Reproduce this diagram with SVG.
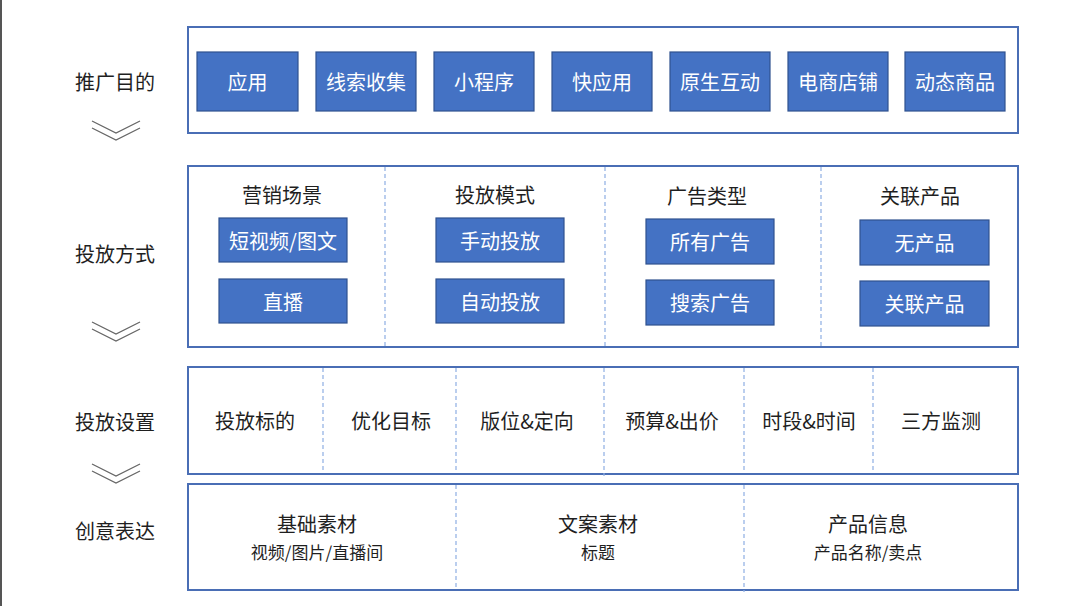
<svg xmlns="http://www.w3.org/2000/svg" width="1080" height="606" viewBox="0 0 1080 606">
<style>
text{font-family:"Noto Sans CJK SC","Noto Sans",sans-serif;text-anchor:middle;dominant-baseline:central;}
.lbl{font-size:20px;fill:#1f1f1f;}
.wt{font-size:20px;fill:#ffffff;}
.sub{font-size:17px;fill:#1f1f1f;}
.panel{fill:#ffffff;stroke:#4a6eb5;stroke-width:2;}
.btn{fill:#4472c4;stroke:#2f528f;stroke-width:1.2;}
.dash{stroke:#8eaee3;stroke-width:1.2;stroke-dasharray:4 3;fill:none;}
.chev{fill:none;stroke:#666;stroke-width:1.3;}
</style>
<rect width="1080" height="606" fill="#ffffff"/>
<line x1="1" y1="0" x2="1" y2="606" stroke="#555" stroke-width="2"/>

<g id="labels">
<text class="lbl" x="115" y="81">推广目的</text>
<text class="lbl" x="115" y="253">投放方式</text>
<text class="lbl" x="115" y="421">投放设置</text>
<text class="lbl" x="115" y="530">创意表达</text>
</g>

<g id="connectors">
<polyline class="chev" points="92,121 116,133 140,121"/>
<polyline class="chev" points="92,128 116,140 140,128"/>
<polyline class="chev" points="92,322 116,334 140,322"/>
<polyline class="chev" points="92,329 116,341 140,329"/>
<polyline class="chev" points="92,464 116,476 140,464"/>
<polyline class="chev" points="92,471 116,483 140,471"/>
</g>

<g id="row1">
<rect class="panel" x="188" y="27" width="830" height="106"/>
<g id="n-yingyong"><rect class="btn" x="197" y="52" width="101" height="59"/><text class="wt" x="247.5" y="81.5">应用</text></g>
<g id="n-xiansuo"><rect class="btn" x="316" y="52" width="100" height="59"/><text class="wt" x="366" y="81.5">线索收集</text></g>
<g id="n-xiaochengxu"><rect class="btn" x="434" y="52" width="100" height="59"/><text class="wt" x="484" y="81.5">小程序</text></g>
<g id="n-kuaiyingyong"><rect class="btn" x="552" y="52" width="100" height="59"/><text class="wt" x="602" y="81.5">快应用</text></g>
<g id="n-yuansheng"><rect class="btn" x="670" y="52" width="100" height="59"/><text class="wt" x="720" y="81.5">原生互动</text></g>
<g id="n-dianshang"><rect class="btn" x="788" y="52" width="100" height="59"/><text class="wt" x="838" y="81.5">电商店铺</text></g>
<g id="n-dongtai"><rect class="btn" x="905" y="52" width="100" height="59"/><text class="wt" x="955" y="81.5">动态商品</text></g>
</g>

<g id="row2">
<rect class="panel" x="188" y="166" width="830" height="181"/>
<line class="dash" x1="385" y1="167" x2="385" y2="346"/>
<line class="dash" x1="605" y1="167" x2="605" y2="346"/>
<line class="dash" x1="821" y1="167" x2="821" y2="346"/>
<text class="lbl" x="282" y="194">营销场景</text>
<text class="lbl" x="495" y="194">投放模式</text>
<text class="lbl" x="707" y="195">广告类型</text>
<text class="lbl" x="920" y="195">关联产品</text>
<g id="n-duanshipin"><rect class="btn" x="219" y="218" width="128" height="44"/><text class="wt" x="283" y="240">短视频/图文</text></g>
<g id="n-zhibo"><rect class="btn" x="219" y="279" width="128" height="44"/><text class="wt" x="283" y="301">直播</text></g>
<g id="n-shoudong"><rect class="btn" x="436" y="218" width="128" height="44"/><text class="wt" x="500" y="240">手动投放</text></g>
<g id="n-zidong"><rect class="btn" x="436" y="279" width="128" height="44"/><text class="wt" x="500" y="301">自动投放</text></g>
<g id="n-suoyou"><rect class="btn" x="646" y="219" width="128" height="45"/><text class="wt" x="710" y="241.5">所有广告</text></g>
<g id="n-sousuo"><rect class="btn" x="646" y="280" width="128" height="45"/><text class="wt" x="710" y="302.5">搜索广告</text></g>
<g id="n-wuchanpin"><rect class="btn" x="860" y="220" width="129" height="45"/><text class="wt" x="924.5" y="242.5">无产品</text></g>
<g id="n-guanlian"><rect class="btn" x="860" y="281" width="129" height="45"/><text class="wt" x="924.5" y="303.5">关联产品</text></g>
</g>

<g id="row3">
<rect class="panel" x="188" y="367" width="830" height="107"/>
<line class="dash" x1="323" y1="368" x2="323" y2="473"/>
<line class="dash" x1="456" y1="368" x2="456" y2="473"/>
<line class="dash" x1="604" y1="368" x2="604" y2="476"/>
<line class="dash" x1="744" y1="368" x2="744" y2="473"/>
<line class="dash" x1="873" y1="368" x2="873" y2="473"/>
<g id="n-biaodi"><text class="lbl" x="255" y="420">投放标的</text></g>
<g id="n-youhua"><text class="lbl" x="391" y="420">优化目标</text></g>
<g id="n-banwei"><text class="lbl" x="527" y="420">版位&amp;定向</text></g>
<g id="n-yusuan"><text class="lbl" x="672" y="420">预算&amp;出价</text></g>
<g id="n-shiduan"><text class="lbl" x="809" y="420">时段&amp;时间</text></g>
<g id="n-sanfang"><text class="lbl" x="941" y="420">三方监测</text></g>
</g>

<g id="row4">
<rect class="panel" x="188" y="484" width="830" height="106"/>
<line class="dash" x1="456" y1="485" x2="456" y2="589"/>
<line class="dash" x1="744" y1="485" x2="744" y2="592"/>
<g id="n-jichu"><text class="lbl" x="317" y="523">基础素材</text><text class="sub" x="317" y="551">视频/图片/直播间</text></g>
<g id="n-wenan"><text class="lbl" x="598" y="523">文案素材</text><text class="sub" x="598" y="551">标题</text></g>
<g id="n-chanpin"><text class="lbl" x="868" y="523">产品信息</text><text class="sub" x="868" y="551">产品名称/卖点</text></g>
</g>
</svg>
